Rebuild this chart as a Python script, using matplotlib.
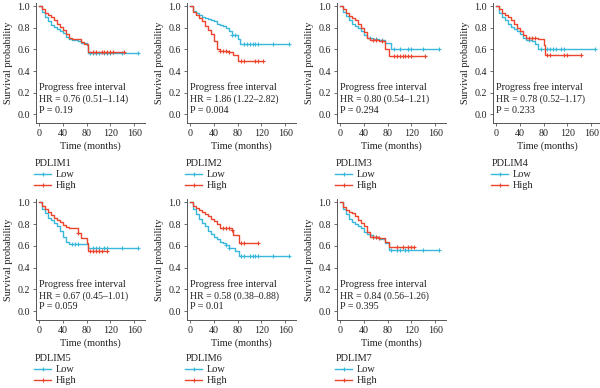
import numpy as np
import matplotlib.pyplot as plt

plt.rcParams['font.family'] = ['Liberation Serif', 'DejaVu Serif']

genes = ['PDLIM1', 'PDLIM2', 'PDLIM3', 'PDLIM4', 'PDLIM5', 'PDLIM6', 'PDLIM7']
hr_text = ['HR = 0.76 (0.51\u20131.14)', 'HR = 1.86 (1.22\u20132.82)', 'HR = 0.80 (0.54\u20131.21)',
           'HR = 0.78 (0.52\u20131.17)', 'HR = 0.67 (0.45\u20131.01)', 'HR = 0.58 (0.38\u20130.88)',
           'HR = 0.84 (0.56\u20131.26)']
p_text = ['P = 0.19', 'P = 0.004', 'P = 0.294', 'P = 0.233', 'P = 0.059', 'P = 0.01', 'P = 0.395']

# step times shared by the early part of every curve (months)
t_early = [0, 5, 10, 15, 20, 25, 30, 35, 40, 45, 50]

# Low expression curves: extra step times, survival at every step, end of follow-up
low_t = [
    [55, 65, 70, 80, 83],
    [55, 60, 65, 70, 80, 84],
    [55, 65, 75, 85],
    [60, 66, 70],
    [83],
    [55, 60, 65, 75, 83],
    [55, 65, 75, 83],
]
low_s = [
    [1.0, 0.95, 0.90, 0.86, 0.83, 0.81, 0.79, 0.77, 0.75, 0.72, 0.70, 0.69, 0.68, 0.66, 0.64, 0.57],
    [1.0, 0.96, 0.94, 0.92, 0.90, 0.89, 0.88, 0.87, 0.86, 0.84, 0.83, 0.82, 0.80, 0.77, 0.73, 0.70, 0.65],
    [1.0, 0.95, 0.91, 0.87, 0.84, 0.82, 0.80, 0.77, 0.73, 0.71, 0.71, 0.70, 0.69, 0.66, 0.60],
    [1.0, 0.94, 0.90, 0.87, 0.84, 0.81, 0.79, 0.77, 0.74, 0.71, 0.69, 0.68, 0.65, 0.60],
    [1.0, 0.94, 0.90, 0.86, 0.84, 0.81, 0.78, 0.74, 0.68, 0.64, 0.62, 0.58],
    [1.0, 0.94, 0.89, 0.85, 0.81, 0.78, 0.74, 0.71, 0.68, 0.66, 0.64, 0.63, 0.61, 0.58, 0.55, 0.51],
    [1.0, 0.94, 0.89, 0.85, 0.82, 0.80, 0.78, 0.76, 0.73, 0.71, 0.70, 0.68, 0.66, 0.63, 0.56],
]
low_end = [167, 167, 167, 167, 167, 167, 167]
low_cens = [
    [85, 90, 95, 100, 110, 115, 120, 140, 167],
    [70, 75, 90, 95, 100, 105, 110, 115, 140, 167],
    [50, 60, 70, 90, 100, 115, 120, 140, 167],
    [55, 75, 85, 90, 95, 100, 110, 115, 167],
    [55, 60, 65, 90, 95, 100, 110, 115, 140, 167],
    [60, 65, 85, 90, 100, 105, 110, 115, 140, 167],
    [55, 60, 85, 95, 100, 110, 115, 140, 167],
]

high_t = [
    [55, 70, 75, 82],
    [55, 65, 72, 80],
    [65, 75, 83],
    [70, 80, 83],
    [60, 65, 70, 80, 82],
    [70, 72, 82],
    [65, 75, 83],
]
high_s = [
    [1.0, 0.97, 0.94, 0.92, 0.90, 0.87, 0.84, 0.81, 0.78, 0.74, 0.71, 0.70, 0.67, 0.65, 0.58],
    [1.0, 0.95, 0.92, 0.89, 0.86, 0.82, 0.78, 0.74, 0.68, 0.60, 0.59, 0.59, 0.58, 0.55, 0.49],
    [1.0, 0.97, 0.94, 0.91, 0.89, 0.87, 0.84, 0.80, 0.76, 0.71, 0.69, 0.68, 0.60, 0.54],
    [1.0, 0.97, 0.94, 0.92, 0.90, 0.87, 0.84, 0.80, 0.77, 0.73, 0.71, 0.70, 0.64, 0.55],
    [1.0, 0.97, 0.94, 0.91, 0.88, 0.86, 0.84, 0.82, 0.79, 0.77, 0.76, 0.76, 0.72, 0.67, 0.63, 0.55],
    [1.0, 0.97, 0.95, 0.93, 0.91, 0.89, 0.87, 0.85, 0.83, 0.80, 0.76, 0.75, 0.70, 0.63],
    [1.0, 0.96, 0.93, 0.91, 0.90, 0.87, 0.84, 0.81, 0.78, 0.73, 0.68, 0.67, 0.64, 0.59],
]
high_end = [143, 123, 143, 143, 115, 115, 125]
high_cens = [
    [90, 95, 105, 110, 115, 120, 125, 143],
    [50, 55, 60, 65, 85, 90, 110, 115, 123],
    [55, 60, 70, 90, 95, 100, 105, 110, 115, 120, 143],
    [55, 60, 65, 85, 90, 115, 120, 143],
    [65, 85, 90, 95, 100, 105, 115],
    [55, 60, 65, 70, 85, 90, 115],
    [55, 60, 65, 95, 105, 115, 120, 125],
]

c_low = '#38B8DA'
c_high = '#EB452E'
fs = 7.0
txt_c = '#222222'


def draw_curve(ax, t, s, end, cens, color):
    t = np.array(t_early + t, dtype=float)
    s = np.array(s, dtype=float)
    tt = np.append(t, end)
    ss = np.append(s, s[-1])
    ax.step(tt, ss, where='post', color=color, lw=1.0)
    cens = np.array(cens, dtype=float)
    idx = np.searchsorted(t, cens, side='right') - 1
    ax.plot(cens, s[idx], ls='none', marker='+', ms=3.5, mew=0.8, color=color)


fig = plt.figure(figsize=(6, 3.88), dpi=100)
lefts = [36, 187, 337, 493]
rows = [(3, 123), (199, 320)]
leg_y = [-0.30, -0.28]
for i, g in enumerate(genes):
    r, c = divmod(i, 4)
    top, bot = rows[r]
    ax = fig.add_axes([lefts[c] / 600, 1 - bot / 388, 109 / 600, (bot - top) / 388])
    draw_curve(ax, low_t[i], low_s[i], low_end[i], low_cens[i], c_low)
    draw_curve(ax, high_t[i], high_s[i], high_end[i], high_cens[i], c_high)
    ax.set_xlim(-5, 178)
    ax.set_ylim(-0.08, 1.03)
    ax.set_xticks([0, 40, 80, 120, 160])
    ax.set_yticks([0.0, 0.2, 0.4, 0.6, 0.8, 1.0])
    ax.set_yticklabels(['0.0', '0.2', '0.4', '0.6', '0.8', '1.0'])
    for sp in ['top', 'right']:
        ax.spines[sp].set_visible(False)
    for sp in ['left', 'bottom']:
        ax.spines[sp].set_color('#555555')
        ax.spines[sp].set_linewidth(0.7)
    ax.tick_params(labelsize=fs + 0.2, length=2.5, width=0.6, color='#555555', pad=2, labelcolor=txt_c)
    ax.set_xlabel('Time (months)', fontsize=fs + 0.4, labelpad=2, color=txt_c)
    ax.set_ylabel('Survival probability', fontsize=fs + 0.4, labelpad=3, color=txt_c)
    ax.text(0, 0.25, 'Progress free interval', fontsize=fs + 0.3, va='center', color=txt_c)
    ax.text(0, 0.14, hr_text[i], fontsize=fs, va='center', color=txt_c)
    ax.text(0, 0.04, p_text[i], fontsize=fs + 0.3, va='center', color=txt_c)

    h_low, = ax.plot([], [], color=c_low, lw=1.0, marker='+', ms=3.5, mew=0.8)
    h_high, = ax.plot([], [], color=c_high, lw=1.0, marker='+', ms=3.5, mew=0.8)
    leg = ax.legend([h_low, h_high], ['Low', 'High'], title=g, loc='upper left',
                    bbox_to_anchor=(-0.015, leg_y[r]), frameon=False, fontsize=fs + 0.4,
                    title_fontsize=fs + 0.4, handlelength=1.6, handletextpad=0.5,
                    borderpad=0, borderaxespad=0, labelspacing=0.2, alignment='left')
    for txt in leg.get_texts():
        txt.set_color(txt_c)
    leg.get_title().set_color(txt_c)

fig.savefig('out.png', dpi=100)
